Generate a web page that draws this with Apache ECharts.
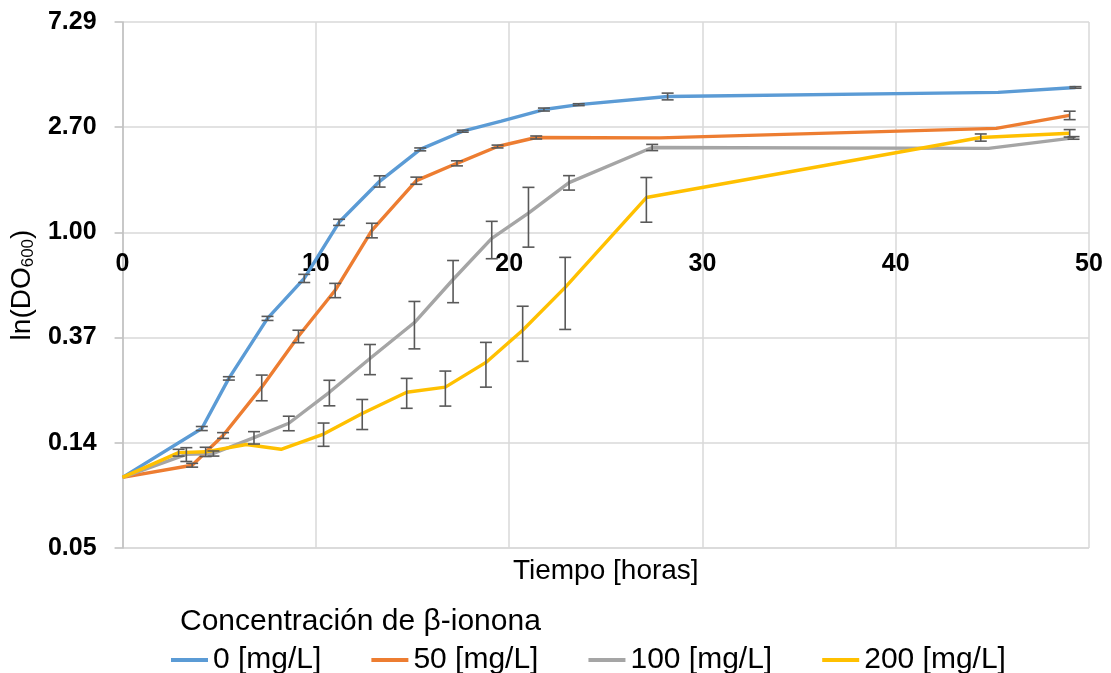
<!DOCTYPE html>
<html>
<head>
<meta charset="utf-8">
<script src="https://cdn.jsdelivr.net/npm/echarts@6/dist/echarts.min.js"></script>
<style>
  html, body { margin: 0; padding: 0; background: #fff; }
  #chart { width: 1111px; height: 673px; }
</style>
</head>
<body>
<div id="chart"></div>
<script>
// Growth curves, ln(DO600) vs time, four beta-ionone concentrations

const SERIES_NAMES = ['0 [mg/L]', '50 [mg/L]', '100 [mg/L]', '200 [mg/L]'];
const COLORS = ['#5B9BD5', '#ED7D31', '#A5A5A5', '#FFC000'];

// 0 mg/L
const hours0 = [0, 4.1, 5.5, 7.5, 9.4, 11.2, 13.3, 15.4, 17.6, 19.6, 21.8, 23.6, 28.2, 45.3, 49.3];
const od0 = [0.099, 0.157, 0.252, 0.444, 0.648, 1.10, 1.62, 2.19, 2.60, 2.86, 3.19, 3.34, 3.61, 3.75, 3.93];
const sd0 = [0, 0.003, 0.004, 0.0085, 0.025, 0.032, 0.086, 0.03, 0.025, 0, 0.045, 0.03, 0.115, 0, 0.03];

// 50 mg/L
const hours50 = [0, 3.6, 5.2, 7.2, 9.1, 11.0, 12.9, 15.2, 17.3, 19.4, 21.4, 27.8, 45.2, 49.0];
const od50 = [0.099, 0.111, 0.147, 0.232, 0.375, 0.579, 1.02, 1.63, 1.92, 2.25, 2.45, 2.44, 2.67, 3.02];
const sd50 = [0, 0.002, 0.004, 0.028, 0.022, 0.039, 0.07, 0.055, 0.046, 0.03, 0.035, 0, 0, 0.12];

// 100 mg/L
const hours100 = [0, 3.3, 4.7, 6.8, 8.6, 10.7, 12.8, 15.1, 17.1, 19.1, 21.0, 23.1, 27.4, 44.8, 49.2];
const od100 = [0.099, 0.123, 0.124, 0.144, 0.165, 0.221, 0.304, 0.427, 0.641, 0.945, 1.20, 1.60, 2.23, 2.21, 2.44];
const sd100 = [0, 0.008, 0.003, 0.0084, 0.0113, 0.0265, 0.043, 0.094, 0.126, 0.165, 0.33, 0.109, 0.065, 0, 0.03];

// 200 mg/L
const hours200 = [0, 2.9, 4.3, 6.4, 8.2, 10.4, 12.4, 14.7, 16.7, 18.8, 20.7, 22.9, 27.1, 44.4, 49.0];
const od200 = [0.099, 0.125, 0.126, 0.135, 0.129, 0.149, 0.181, 0.221, 0.232, 0.293, 0.397, 0.595, 1.39, 2.45, 2.55];
const sd200 = [0, 0.004, 0.0055, 0, 0, 0.0163, 0.0255, 0.031, 0.038, 0.061, 0.101, 0.195, 0.289, 0.083, 0.09];

const HOURS = [hours0, hours50, hours100, hours200];
const ODS = [od0, od50, od100, od200];
const SDS = [sd0, sd50, sd100, sd200];

// axis settings
const X_MIN = 0, X_MAX = 50, X_STEP = 10;
const LOG_BASE = 2.7;
const Y_MIN = Math.pow(LOG_BASE, -3);
const Y_MAX = Math.pow(LOG_BASE, 2);

const FONT = '"Liberation Sans", Arial, sans-serif';

function renderErrorBar(params, api) {
  const x = api.value(0);
  const y = api.value(1);
  const s = api.value(2);
  if (!s) return null;
  const top = api.coord([x, y + s]);
  const bot = api.coord([x, y - s]);
  const half = 6;
  const style = { stroke: '#595959', lineWidth: 1.6 };
  return {
    type: 'group',
    children: [
      { type: 'line', shape: { x1: top[0], y1: top[1], x2: bot[0], y2: bot[1] }, style },
      { type: 'line', shape: { x1: top[0] - half, y1: top[1], x2: top[0] + half, y2: top[1] }, style },
      { type: 'line', shape: { x1: bot[0] - half, y1: bot[1], x2: bot[0] + half, y2: bot[1] }, style },
    ],
  };
}

const lineSeries = SERIES_NAMES.map((name, i) => ({
  name,
  type: 'line',
  data: HOURS[i].map((h, j) => [h, ODS[i][j]]),
  symbol: 'none',
  lineStyle: { color: COLORS[i], width: 3.4 },
  itemStyle: { color: COLORS[i] },
  z: 2,
}));

const errorData = [];
HOURS.forEach((hrs, i) => {
  hrs.forEach((h, j) => errorData.push([h, ODS[i][j], SDS[i][j]]));
});

const option = {
  backgroundColor: '#fff',
  animation: false,
  textStyle: { fontFamily: FONT },
  title: {
    text: 'Concentración de β-ionona',
    left: 175,
    top: 602,
    textStyle: { fontSize: 30, fontWeight: 'normal', color: '#000', fontFamily: FONT },
  },
  legend: {
    data: SERIES_NAMES,
    left: 166,
    top: 640,
    icon: 'rect',
    itemWidth: 37,
    itemHeight: 4,
    itemGap: 50,
    textStyle: { fontSize: 30, color: '#000', fontFamily: FONT },
  },
  grid: { left: 121, right: 22, top: 22, bottom: 125 },
  xAxis: [
    {
      type: 'value',
      min: X_MIN,
      max: X_MAX,
      interval: X_STEP,
      offset: -316,
      axisLine: { show: false },
      axisTick: { show: false },
      axisLabel: { fontSize: 25, fontWeight: 'bold', color: '#000', margin: 20, fontFamily: FONT },
      splitLine: { show: true, lineStyle: { color: '#D9D9D9', width: 1.5 } },
    },
    {
      type: 'value',
      min: X_MIN,
      max: X_MAX,
      position: 'bottom',
      name: 'Tiempo [horas]',
      nameLocation: 'middle',
      nameGap: 9,
      nameTextStyle: { fontSize: 28, color: '#000', fontFamily: FONT, verticalAlign: 'top' },
      axisLine: { show: false },
      axisTick: { show: false },
      axisLabel: { show: false },
      splitLine: { show: false },
    },
  ],
  yAxis: {
    type: 'log',
    logBase: LOG_BASE,
    min: Y_MIN,
    max: Y_MAX,
    splitNumber: 5,
    name: 'ln(DO{sub|600})',
    nameLocation: 'middle',
    nameRotate: 90,
    nameGap: 78,
    nameTextStyle: {
      fontSize: 28,
      color: '#000',
      fontFamily: FONT,
      rich: { sub: { fontSize: 17, padding: [13, 0, 0, 0], fontFamily: FONT, color: '#000' } },
    },
    axisLine: { show: true, lineStyle: { color: '#BFBFBF', width: 1.5 } },
    axisTick: { show: true, length: 8, lineStyle: { color: '#BFBFBF', width: 1.5 } },
    axisLabel: {
      fontSize: 25,
      fontWeight: 'bold',
      color: '#000',
      margin: 26,
      fontFamily: FONT,
      formatter: v => v.toFixed(2),
    },
    splitLine: { show: true, lineStyle: { color: '#D9D9D9', width: 1.5 } },
  },
  series: [
    ...lineSeries,
    {
      type: 'custom',
      renderItem: renderErrorBar,
      data: errorData,
      encode: { x: 0, y: 1 },
      z: 5,
      silent: true,
    },
  ],
};

const chart = echarts.init(document.getElementById('chart'), null, { renderer: 'canvas' });
chart.setOption(option);
</script>
</body>
</html>
